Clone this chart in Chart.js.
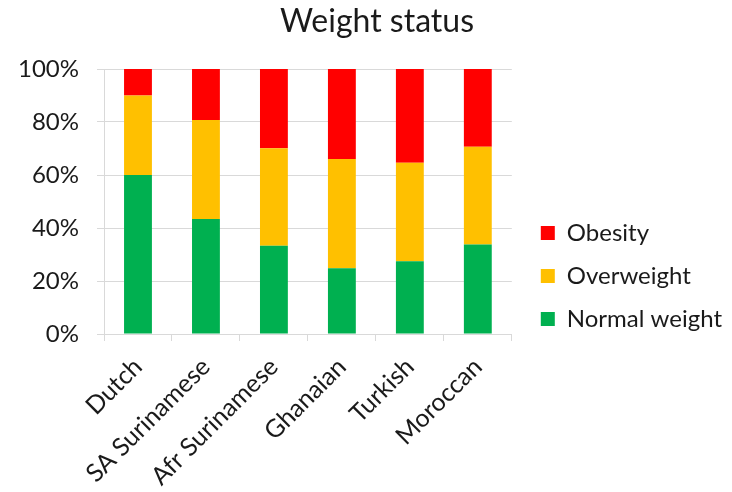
<!DOCTYPE html>
<html>
<head>
<meta charset="utf-8">
<title>Weight status</title>
<script src="https://cdn.jsdelivr.net/npm/chart.js@4/dist/chart.umd.min.js"></script>
<style>
  html, body { margin: 0; padding: 0; background: #ffffff; }
  #wrap { width: 732px; height: 492px; }
</style>
</head>
<body>
<div id="wrap"><canvas id="chart" width="732" height="492"></canvas></div>
<script>
// Groups along the x axis
const categories = ['Dutch', 'SA Surinamese', 'Afr Surinamese', 'Ghanaian', 'Turkish', 'Moroccan'];

// Share of each weight class per group (percent, stacks to 100)
const normalWeight = [60.0, 43.4, 33.3, 24.8, 27.5, 33.8];
const overweight   = [30.0, 37.4, 36.8, 41.2, 37.1, 36.9];
const obesity      = [10.0, 19.2, 29.9, 34.0, 35.4, 29.3];

// Percent ticks on the y axis
const yTicks = [0, 20, 40, 60, 80, 100];

const FONT = 'Lato, "Open Sans", "Liberation Sans", sans-serif';
const TEXT = '#1a1a1a';
const GRID = '#d9d9d9';

// Shifts the title and legend boxes after layout: the title sits a bit right
// of the canvas centre, the legend a bit away from the plot and lower down.
const boxNudge = {
  id: 'boxNudge',
  afterLayout(chart, args, opts) {
    const lg = chart.legend;
    if (lg) {
      lg.left += opts.legendDx; lg.right += opts.legendDx;
      lg.top += opts.legendDy;  lg.bottom += opts.legendDy;
    }
    const tt = chart.titleBlock;
    if (tt) {
      tt.left += opts.titleDx; tt.right += opts.titleDx;
    }
  }
};

new Chart(document.getElementById('chart'), {
  type: 'bar',
  data: {
    labels: categories,
    datasets: [
      { label: 'Normal weight', data: normalWeight, backgroundColor: '#00B050' },
      { label: 'Overweight',    data: overweight,   backgroundColor: '#FFC000' },
      { label: 'Obesity',       data: obesity,      backgroundColor: '#FF0000' }
    ]
  },
  plugins: [boxNudge],
  options: {
    responsive: false,
    animation: false,
    layout: { padding: { left: 0, right: 10, top: 0, bottom: 0 } },
    datasets: {
      bar: { categoryPercentage: 1.0, barPercentage: 0.41, borderWidth: 0 }
    },
    plugins: {
      boxNudge: { legendDx: 10, legendDy: 30, titleDx: 16 },
      title: {
        display: true,
        text: 'Weight status',
        color: TEXT,
        font: { family: FONT, size: 32, weight: 'normal' },
        padding: { top: 2, bottom: 28.6 }
      },
      legend: {
        display: true,
        position: 'right',
        reverse: true,
        maxWidth: 260,
        labels: {
          color: TEXT,
          font: { family: FONT, size: 24 },
          boxWidth: 14,
          boxHeight: 14,
          padding: 19
        }
      },
      tooltip: { enabled: false }
    },
    scales: {
      x: {
        stacked: true,
        grid: {
          display: true,
          drawOnChartArea: false,
          drawTicks: true,
          tickLength: 7,
          color: GRID,
          offset: true
        },
        border: { display: true, color: GRID, width: 1 },
        ticks: {
          color: TEXT,
          font: { family: FONT, size: 25 },
          minRotation: 45,
          maxRotation: 45,
          padding: 11,
          autoSkip: false
        },
        afterFit(scale) { scale.height = 158; }
      },
      y: {
        stacked: true,
        min: 0,
        max: 100,
        afterBuildTicks(scale) { scale.ticks = yTicks.map(v => ({ value: v })); },
        grid: {
          display: true,
          drawOnChartArea: true,
          drawTicks: true,
          tickLength: 7,
          color: GRID
        },
        border: { display: true, color: GRID, width: 1 },
        ticks: {
          color: TEXT,
          font: { family: FONT, size: 24 },
          padding: 18,
          callback: v => v + '%'
        },
        afterFit(scale) { scale.width = 104; }
      }
    }
  }
});
</script>
</body>
</html>
